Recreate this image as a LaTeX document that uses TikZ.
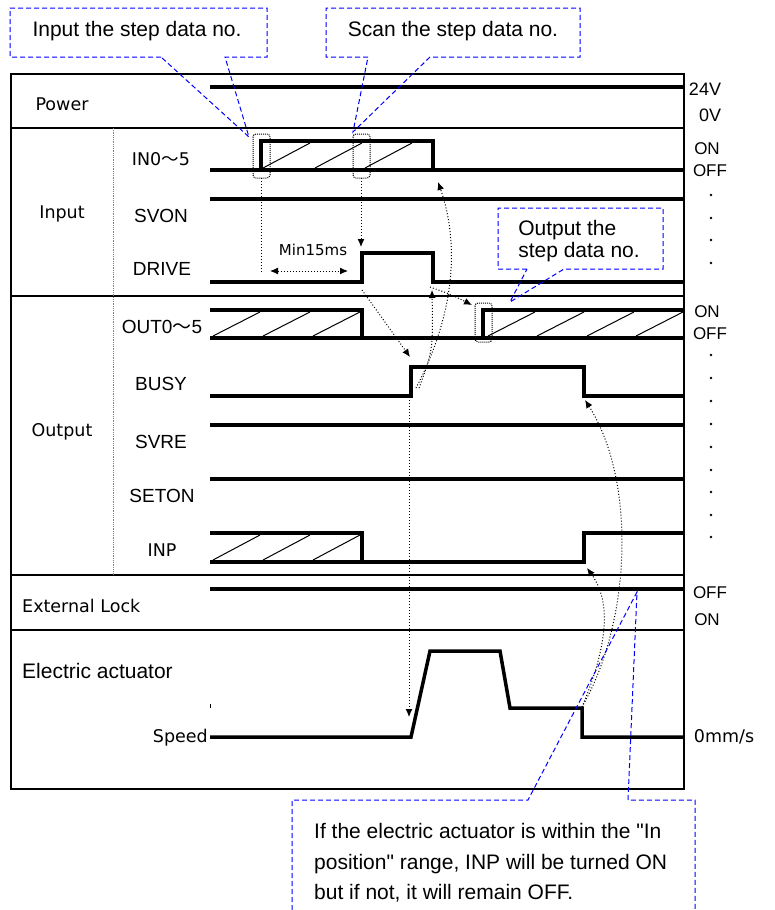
\documentclass[tikz,border=0pt]{standalone}
\usepackage{fontspec}
\setmainfont{Liberation Sans}[Ligatures=TeXOff]
\newfontfamily\gothic{DejaVu Sans}
\newfontfamily\cjk{Noto Sans CJK JP}
\usetikzlibrary{arrows.meta}

\begin{document}
\begin{tikzpicture}[x=1pt,y=-1pt,
    sig/.style={line width=4pt},
    frame/.style={line width=1.5pt},
    hatch/.style={line width=1pt},
    dotbox/.style={densely dotted, line width=1pt, rounded corners=3pt},
    dotline/.style={dotted, line width=1pt},
    dotarrow/.style={dotline, -{Latex[length=8pt,width=7pt]}},
    callout/.style={blue, line width=1pt, dash pattern=on 5pt off 3pt},
    lab/.style={inner sep=0pt, font=\fontsize{19}{22}\selectfont},
    glab/.style={inner sep=0pt, font=\gothic\fontsize{17.5}{20}\selectfont},
    note/.style={inner sep=0pt, font=\fontsize{21}{22}\selectfont}]
    \fill[white] (0,0) rectangle (774,910);
    \useasboundingbox (0,0) rectangle (774,910);

    % Frame and rows
    \draw[frame] (11,74) rectangle (684,789);
    \foreach \y in {128,296,575,630}
        \draw[frame] (11,\y) -- (684,\y);
    \draw[gray, densely dotted, line width=0.8pt] (113,128) -- (113,575);

    % Row labels
    \node[glab] (power) at (62,104) {Power};
    \node[glab] (input) at (62,214) {Input};
    \node[glab] (output) at (62,432) {Output};
    \node[glab, anchor=west] (extlock) at (22,606) {External Lock};
    \node[note, anchor=west] (actuator) at (22,671) {Electric actuator};
    \node[glab, anchor=east] (speed) at (208,738) {Speed};

    \node[glab] (in05) at (161,159) {IN0{\cjk～}5};
    \node[lab] (svon) at (161,216) {SVON};
    \node[lab] (drive) at (162,269) {DRIVE};
    \node[lab] (out05) at (162,327) {OUT0{\cjk～}5};
    \node[lab] (busy) at (161,384) {BUSY};
    \node[lab] (svre) at (161,442) {SVRE};
    \node[lab] (seton) at (162,496) {SETON};
    \node[glab] (inp) at (162,550) {INP};

    % Levels on the right
    \node[lab, font=\fontsize{18}{20}\selectfont] (v24) at (705,89) {24V};
    \node[lab, font=\fontsize{18}{20}\selectfont] (v0) at (710,115) {0V};
    \node[lab, font=\fontsize{17}{20}\selectfont] (inon) at (707,149) {ON};
    \node[lab, font=\fontsize{17}{20}\selectfont] (inoff) at (710,171) {OFF};
    \node[lab, font=\fontsize{17}{20}\selectfont] (outon) at (707,312) {ON};
    \node[lab, font=\fontsize{17}{20}\selectfont] (outoff) at (710,334) {OFF};
    \node[lab, font=\fontsize{17}{20}\selectfont] (lockoff) at (710,593) {OFF};
    \node[lab, font=\fontsize{17}{20}\selectfont] (lockon) at (707,620) {ON};
    \node[glab] (zero) at (724,737) {0mm/s};
    \foreach \y in {195,218,240,263,355,378,401,424,447,470,492,515,537}
        \fill (711,\y) circle (1.3pt);

    % Power
    \draw[sig] (210,87) -- (684,87);

    % Input signals
    \draw[sig] (210,170) -- (684,170);
    \draw[sig] (261,170) -- (261,141) -- (433,141) -- (433,170);
    \foreach \x in {263,315,365}
        \draw[hatch] (\x,168) -- ++(47,-25);
    \draw[sig] (210,199) -- (684,199);
    \draw[sig] (210,282) -- (362,282) -- (362,253) -- (433,253) -- (433,282) -- (684,282);

    % Output signals
    \draw[sig] (210,338) -- (684,338);
    \draw[sig] (210,310) -- (362,310) -- (362,338);
    \draw[sig] (483,338) -- (483,310) -- (684,310);
    \foreach \x in {213,263,313,488,537,587,636}
        \draw[hatch] (\x,336) -- ++(47,-24);
    \draw[sig] (210,396) -- (411,396) -- (411,367) -- (584,367) -- (584,396) -- (684,396);
    \draw[sig] (210,425) -- (684,425);
    \draw[sig] (210,479) -- (684,479);
    \draw[sig] (210,562) -- (584,562) -- (584,533) -- (684,533);
    \draw[sig] (210,533) -- (362,533) -- (362,562);
    \foreach \x in {213,263,313}
        \draw[hatch] (\x,560) -- ++(47,-25);

    % External lock and speed
    \draw[sig] (210,589) -- (684,589);
    \draw[sig, line width=3.5pt] (210,737) -- (411,737) -- (430,651) -- (500,651) -- (510,708)
        -- (582,708) -- (582,737) -- (684,737);
    \draw[line width=1pt] (210,704) -- (210,708);

    % Dotted marks and timing arrows
    \draw[dotbox] (253,134) rectangle (270,178);
    \draw[dotbox] (353,134) rectangle (370,178);
    \draw[dotbox] (475,303) rectangle (492,342);
    \draw[dotline] (261,178) -- (261,272);
    \draw[dotarrow] (361,178) -- (361,247);
    \node[glab, font=\gothic\fontsize{15}{16}\selectfont] (min15) at (313,250) {Min15ms};
    \draw[dotline, {Latex[length=8pt,width=7pt]}-{Latex[length=8pt,width=7pt]}] (270,271) -- (348,271);
    \draw[dotarrow] (362,290) -- (410,357);
    \draw[dotarrow] (430,287) .. controls (450,294) .. (472,305);
    \draw[dotarrow] (416,388) .. controls (462,300) and (455,230) .. (438,182);
    \draw[dotarrow] (419,388) .. controls (433,350) .. (432,290);
    \draw[dotarrow] (409,400) -- (409,717);
    \draw[dotarrow] (582,707) .. controls (632,620) and (636,480) .. (585,400);
    \draw[dotarrow] (582,707) .. controls (610,640) and (610,600) .. (587,568);

    % Callouts
    \draw[callout] (161,57) -- (10,57) -- (10,8) -- (267,8) -- (267,57) -- (225,57) -- (249,137) -- cycle;
    \node[note] (inputno) at (137,31) {Input the step data no.};
    \draw[callout] (368,57) -- (326,57) -- (326,8) -- (580,8) -- (580,57) -- (430,57) -- (353,132) -- cycle;
    \node[note] (scanno) at (453,31) {Scan the step data no.};
    \draw[callout] (527,269) -- (498,269) -- (498,208) -- (663,208) -- (663,269) -- (564,269) -- (510,302) -- cycle;
    \node[note, align=left] (outputno) at (579,241) {Output the\\step data no.};
    \draw[callout] (292,910) -- (292,800) -- (528,800) -- (637,592) -- (628,800) -- (695,800) -- (695,910);
    \node[note, align=left, anchor=west, font=\fontsize{21}{30.5}\selectfont] (inpnote) at (314,863)
        {If the electric actuator is within the "In\\position" range, INP will be turned ON\\but if not, it will remain OFF.};
\end{tikzpicture}
\end{document}
